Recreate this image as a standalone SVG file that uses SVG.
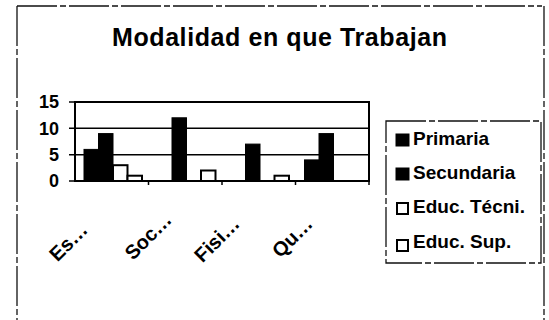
<svg xmlns="http://www.w3.org/2000/svg" width="549" height="320" viewBox="0 0 549 320">
<style>
.frame{fill:none;stroke:#111;stroke-width:1.3;stroke-dasharray:40 3 6 3}
.axis{fill:none;stroke:#000;stroke-width:2}
.grid{stroke:#000;stroke-width:1.5}
.blk{fill:#000;stroke:#000;stroke-width:1}
.wht{fill:#fff;stroke:#000;stroke-width:2}
.t{font-family:"Liberation Sans",Arial,sans-serif;font-weight:bold;fill:#000}
.ytl{font-size:18px;text-anchor:end}
.xtl{font-size:20px;text-anchor:end}
.leg{font-size:19px}
</style>
<rect width="549" height="320" fill="#fff"/>
<g id="frame">
<line class="frame" x1="17" y1="6" x2="542" y2="6"/>
<line class="frame" x1="17" y1="6" x2="17" y2="320"/>
<line class="frame" x1="544" y1="6" x2="544" y2="320"/>
</g>
<g id="title">
<text class="t" x="112" y="46" font-size="25" textLength="335" lengthAdjust="spacing">Modalidad en que Trabajan</text>
</g>
<g id="plot">
<line class="grid" x1="69" y1="128.3" x2="369" y2="128.3"/>
<line class="grid" x1="69" y1="154.7" x2="369" y2="154.7"/>
<line class="grid" x1="69" y1="102" x2="75" y2="102"/>
<line class="grid" x1="69" y1="181" x2="75" y2="181"/>
<rect x="75" y="102" width="294" height="79" class="axis"/>
<line class="grid" x1="148.5" y1="181" x2="148.5" y2="185"/>
<line class="grid" x1="222" y1="181" x2="222" y2="185"/>
<line class="grid" x1="295.5" y1="181" x2="295.5" y2="185"/>
<line class="grid" x1="369" y1="181" x2="369" y2="185"/>
</g>
<g id="bars">
<rect class="blk" x="84" y="149.4" width="14.5" height="31.6"/>
<rect class="blk" x="98.5" y="133.6" width="14.5" height="47.4"/>
<rect class="wht" x="113" y="165.2" width="14.5" height="15.8"/>
<rect class="wht" x="127.5" y="175.7" width="14.5" height="5.3"/>
<rect class="blk" x="172" y="117.8" width="14.5" height="63.2"/>
<rect class="wht" x="201" y="170.5" width="14.5" height="10.5"/>
<rect class="blk" x="245.5" y="144.1" width="14.5" height="36.9"/>
<rect class="wht" x="274.5" y="175.7" width="14.5" height="5.3"/>
<rect class="blk" x="304.5" y="159.9" width="14.5" height="21.1"/>
<rect class="blk" x="319" y="133.6" width="14.5" height="47.4"/>
</g>
<g id="yaxis-labels">
<text class="t ytl" x="59" y="108">15</text>
<text class="t ytl" x="59" y="135">10</text>
<text class="t ytl" x="59" y="161">5</text>
<text class="t ytl" x="59" y="187">0</text>
</g>
<g id="xaxis-labels">
<text class="t xtl" transform="translate(89,231) rotate(-45)">Es…</text>
<text class="t xtl" transform="translate(173,221) rotate(-45)">Soc…</text>
<text class="t xtl" transform="translate(241,225) rotate(-45)">Fisi…</text>
<text class="t xtl" transform="translate(314,225) rotate(-45)">Qu…</text>
</g>
<g id="legend">
<rect x="386" y="121" width="155" height="142" class="frame"/>
<rect class="blk" x="396" y="134" width="13" height="12"/>
<text class="t leg" x="413" y="145">Primaria</text>
<rect class="blk" x="396" y="168" width="13" height="12"/>
<text class="t leg" x="413" y="179">Secundaria</text>
<rect class="wht" x="397" y="203" width="11" height="11"/>
<text class="t leg" x="413" y="213">Educ. Técni.</text>
<rect class="wht" x="397" y="240" width="11" height="11"/>
<text class="t leg" x="413" y="248">Educ. Sup.</text>
</g>
</svg>
